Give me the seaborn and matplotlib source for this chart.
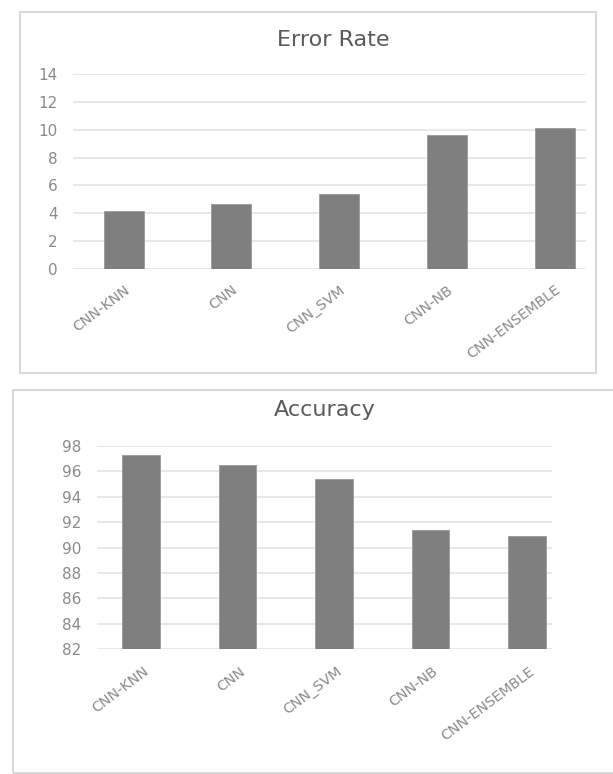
import matplotlib
matplotlib.use("Agg")
import matplotlib.pyplot as plt
from matplotlib.patches import Rectangle
from matplotlib.transforms import ScaledTranslation
import seaborn as sns
import pandas as pd

models = ["CNN-KNN", "CNN", "CNN_SVM", "CNN-NB", "CNN-ENSEMBLE"]
error_rate = [4.2, 4.65, 5.4, 9.6, 10.1]
accuracy = [97.3, 96.5, 95.4, 91.4, 90.9]
error_ticks = [0, 2, 4, 6, 8, 10, 12, 14]
acc_ticks = [82, 84, 86, 88, 90, 92, 94, 96, 98]

sns.set_theme(style="white")
plt.rcParams["font.family"] = ["DejaVu Sans"]

W, H = 613, 774
fig = plt.figure(figsize=(W / 100, H / 100), dpi=100)

def fr(x0, y0, x1, y1):
    return [x0 / W, 1 - y1 / H, (x1 - x0) / W, (y1 - y0) / H]

# panel frames
for (x0, y0, x1, y1) in [(20, 12, 596, 373), (13, 390, 616, 773)]:
    fig.patches.append(Rectangle((x0 / W, 1 - y1 / H), (x1 - x0) / W, (y1 - y0) / H,
                                 transform=fig.transFigure, fill=False,
                                 edgecolor="#d9d9d9", linewidth=1.5))

BAR = "#7f7f7f"
TICK = "#8a8a8a"
GRID = "#e4e4e4"
TITLE = "#595959"

def style(ax, ticks, lim, xlim, title, title_pos, xoff, xpad):
    ax.set_ylim(*lim)
    ax.set_yticks(ticks)
    ax.set_xlim(*xlim)
    ax.set_xlabel("")
    ax.set_ylabel("")
    for s in ax.spines.values():
        s.set_visible(False)
    ax.grid(axis="y", color=GRID, linewidth=1.2)
    ax.set_axisbelow(True)
    ax.tick_params(axis="y", length=0, pad=11, labelsize=11, labelcolor=TICK)
    ax.tick_params(axis="x", length=0, pad=xpad, labelsize=10.3, labelcolor=TICK)
    for lab in ax.get_xticklabels():
        lab.set_rotation(37)
        lab.set_ha("right")
        lab.set_va("top")
        lab.set_rotation_mode("anchor")
        lab.set_transform(lab.get_transform() +
                          ScaledTranslation(xoff / 100, 0, fig.dpi_scale_trans))
    fig.text(title_pos[0] / W, 1 - title_pos[1] / H, title, ha="center", va="center",
             fontsize=16, color=TITLE)

# Error Rate
ax1 = fig.add_axes(fr(73, 74, 586, 269))
df1 = pd.DataFrame({"model": models, "value": error_rate})
sns.barplot(data=df1, x="model", y="value", color=BAR, width=0.37, saturation=1,
            ax=ax1, edgecolor="#9a9a9a", linewidth=0.6)
style(ax1, error_ticks, (0, 14), (-0.47, 4.29), "Error Rate", (333, 40), 0, 10)

# Accuracy
ax2 = fig.add_axes(fr(97, 446, 552, 649))
df2 = pd.DataFrame({"model": models, "value": accuracy})
sns.barplot(data=df2, x="model", y="value", color=BAR, width=0.39, saturation=1,
            ax=ax2, edgecolor="#9a9a9a", linewidth=0.6)
style(ax2, acc_ticks, (82, 98), (-0.456, 4.26), "Accuracy", (325, 410), 2, 11)

# faint secondary-axis tick marks on the right of the accuracy panel
ax3 = fig.add_axes(fr(602, 456, 603, 664))
ax3.set_ylim(0, 7)
ax3.set_yticks(range(8))
ax3.set_yticklabels([])
ax3.set_xticks([])
for s in ax3.spines.values():
    s.set_visible(False)
ax3.patch.set_visible(False)
ax3.tick_params(axis="y", length=4, color="#e6e6e6", width=1)

fig.savefig("out.png", dpi=100)
